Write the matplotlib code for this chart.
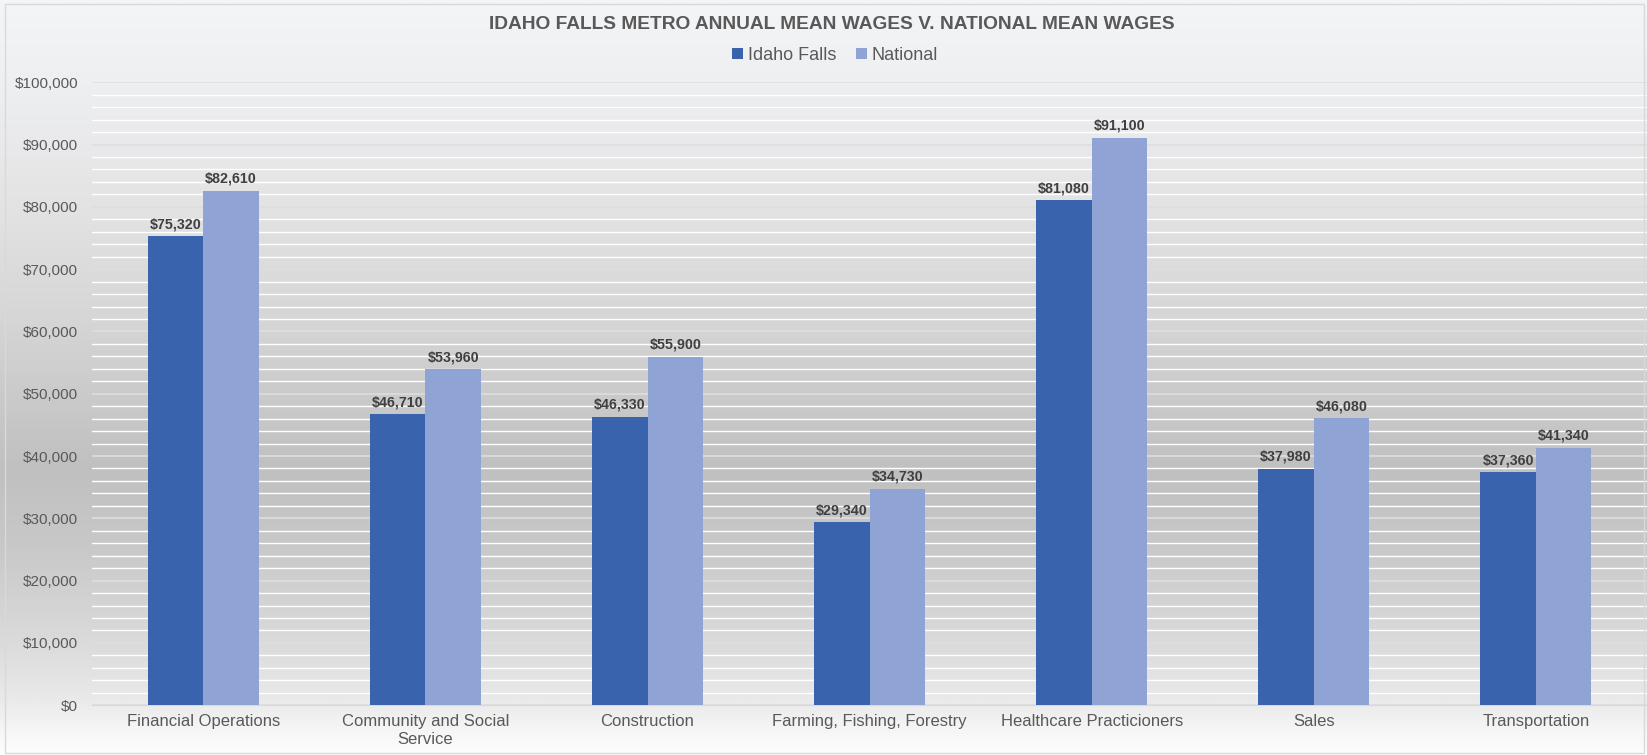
import numpy as np
import matplotlib
matplotlib.use("Agg")
import matplotlib.pyplot as plt
from matplotlib.colors import LinearSegmentedColormap
from matplotlib.ticker import FuncFormatter, MultipleLocator

plt.rcParams['font.family'] = ['Liberation Sans', 'DejaVu Sans']

# data
categories = ["Financial Operations", "Community and Social\nService", "Construction",
              "Farming, Fishing, Forestry", "Healthcare Practicioners", "Sales", "Transportation"]
idaho_falls = [75320, 46710, 46330, 29340, 81080, 37980, 37360]
national = [82610, 53960, 55900, 34730, 91100, 46080, 41340]

col_idaho = '#3a63ad'
col_nat = '#8fa4d5'
txt_col = '#595959'

fig = plt.figure(figsize=(16.47, 7.55), dpi=100)

# background gradient over whole figure (light top, darker middle, light bottom)
bg = fig.add_axes([0, 0, 1, 1], zorder=-10)
stops = [(0.0, '#f4f5f7'), (0.11, '#eeeff1'), (0.26, '#e4e4e5'), (0.42, '#d6d6d6'),
         (0.62, '#c0c0c0'), (0.72, '#c8c8c8'), (0.80, '#d3d3d3'), (0.86, '#dcdcdc'),
         (0.93, '#eaeaea'), (0.97, '#f6f6f6'), (1.0, '#fdfdfd')]
cmap = LinearSegmentedColormap.from_list('bg', stops)
grad = np.linspace(0, 1, 512).reshape(-1, 1)
bg.imshow(grad, aspect='auto', cmap=cmap, extent=[0, 1, 0, 1], origin='upper')
bg.set_xlim(0, 1)
bg.set_ylim(0, 1)
bg.axis('off')

ax = fig.add_axes([0.056, 0.066, 0.944, 0.825])
ax.set_facecolor('none')

x = np.arange(len(categories))
w = 0.25
b1 = ax.bar(x - w / 2, idaho_falls, w, color=col_idaho, label='Idaho Falls', zorder=3)
b2 = ax.bar(x + w / 2, national, w, color=col_nat, label='National', zorder=3)

for bars in (b1, b2):
    for r in bars:
        ax.text(r.get_x() + r.get_width() / 2, r.get_height() + 800, f"${r.get_height():,.0f}",
                ha='center', va='bottom', fontsize=10.3, fontweight='bold', color='#404040', zorder=4)

ax.set_xlim(-0.5, len(categories) - 0.5)
ax.set_ylim(0, 100000)
ax.yaxis.set_major_locator(MultipleLocator(10000))
ax.yaxis.set_minor_locator(MultipleLocator(2000))
ax.yaxis.set_major_formatter(FuncFormatter(lambda v, p: f"${v:,.0f}"))
ax.grid(axis='y', which='major', color='#dedede', linewidth=1.2, zorder=0)
ax.grid(axis='y', which='minor', color='white', linewidth=1.0, zorder=0)
ax.set_axisbelow(True)

ax.set_xticks(x)
ax.set_xticklabels(categories, fontsize=12, color=txt_col, linespacing=1.3)
ax.tick_params(axis='y', labelsize=11, labelcolor=txt_col, length=0, pad=10)
ax.tick_params(axis='x', length=0, pad=6)
ax.tick_params(axis='y', which='minor', length=0)
for s in ('top', 'right', 'left'):
    ax.spines[s].set_visible(False)
ax.spines['bottom'].set_color('#d9d9d9')

fig.text(0.505, 0.968, "IDAHO FALLS METRO ANNUAL MEAN WAGES V. NATIONAL MEAN WAGES",
         ha='center', va='center', fontsize=13.8, fontweight='bold', color=txt_col)
fig.legend(handles=[b1, b2], loc='center', bbox_to_anchor=(0.507, 0.927), ncol=2, frameon=False,
           fontsize=13, labelcolor=txt_col, handlelength=0.6, handleheight=0.6,
           handletextpad=0.25, columnspacing=1.1)

# thin chart border
fig.patches.append(plt.Rectangle((0.003, 0.003), 0.995, 0.992, transform=fig.transFigure,
                                 fill=False, edgecolor='#d9d9d9', linewidth=1))

fig.savefig('out.png', dpi=100)
